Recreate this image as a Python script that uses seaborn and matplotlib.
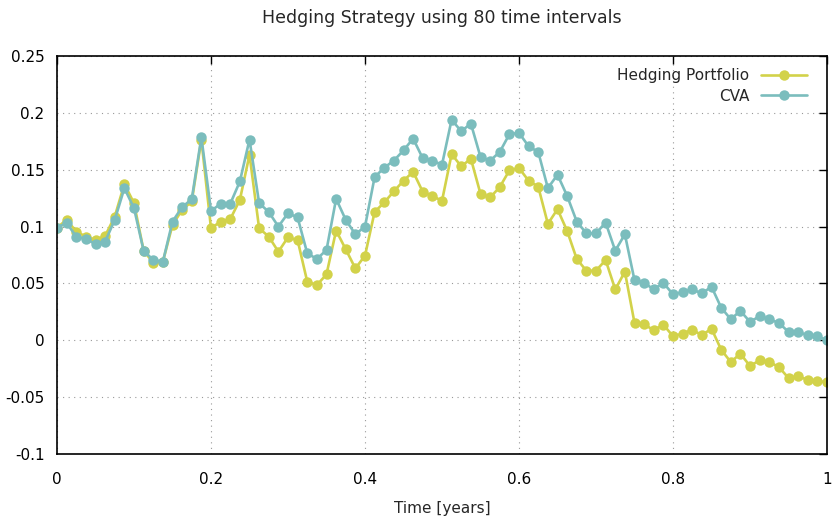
import numpy as np
import pandas as pd
import matplotlib
matplotlib.use("Agg")
import matplotlib.pyplot as plt
import seaborn as sns

n_intervals = 80
time = [i / n_intervals for i in range(n_intervals + 1)]

hedging = [0.099, 0.106, 0.0956, 0.0912, 0.0882, 0.0918, 0.1088, 0.1374, 0.1206, 0.0788,
           0.0682, 0.0691, 0.1015, 0.1147, 0.1221, 0.1765, 0.0985, 0.1044, 0.1065, 0.1235,
           0.1632, 0.0985, 0.0912, 0.0779, 0.0906, 0.088, 0.0515, 0.0485, 0.058, 0.0965,
           0.08, 0.0632, 0.0744, 0.1129, 0.1212, 0.131, 0.1403, 0.1482, 0.1306, 0.127,
           0.1226, 0.1638, 0.1529, 0.1597, 0.1288, 0.1256, 0.1347, 0.1494, 0.1515, 0.1403,
           0.1350, 0.1024, 0.1153, 0.0962, 0.0715, 0.0612, 0.0612, 0.0706, 0.0447, 0.0603,
           0.0153, 0.0141, 0.0088, 0.0138, 0.0035, 0.0059, 0.0094, 0.0044, 0.0103, -0.0082,
           -0.0191, -0.0118, -0.0226, -0.0176, -0.0191, -0.0235, -0.0332, -0.0318, -0.0347, -0.0359,
           -0.0368]

cva = [0.099, 0.1032, 0.0912, 0.0891, 0.0847, 0.0868, 0.1059, 0.1338, 0.1162, 0.0788,
       0.0706, 0.0691, 0.1044, 0.1171, 0.1241, 0.1785, 0.1138, 0.12, 0.12, 0.1397,
       0.1765, 0.1206, 0.1129, 0.1, 0.1118, 0.108, 0.0765, 0.0715, 0.0794, 0.1244,
       0.1059, 0.0932, 0.1, 0.1435, 0.1518, 0.158, 0.167, 0.1774, 0.16, 0.158,
       0.1544, 0.194, 0.1838, 0.1906, 0.1612, 0.158, 0.1656, 0.1812, 0.1824, 0.1706,
       0.1656, 0.1338, 0.1456, 0.127, 0.1044, 0.0941, 0.0941, 0.1035, 0.0788, 0.0932,
       0.0529, 0.0506, 0.0447, 0.0506, 0.0403, 0.0424, 0.0447, 0.0412, 0.0471, 0.0288,
       0.0185, 0.0259, 0.0162, 0.0212, 0.0185, 0.0153, 0.0074, 0.0074, 0.0044, 0.0035,
       0.0]

series_names = ["Hedging Portfolio", "CVA"]
colors = ["#d2d24a", "#7bbdbd"]

df = pd.DataFrame({"time": time, "Hedging Portfolio": hedging, "CVA": cva})
long_df = df.melt(id_vars="time", var_name="series", value_name="value")

sns.set_style("white")
plt.rcParams['font.family'] = ['DejaVu Sans']

fig = plt.figure(figsize=(8.33, 5.2), dpi=100)
ax = fig.add_axes([57 / 833, 1 - 454 / 520, 770 / 833, 398 / 520])

sns.lineplot(data=long_df, x="time", y="value", hue="series", hue_order=series_names,
             palette=colors, marker="o", markersize=7.5, markeredgewidth=0,
             linewidth=1.9, ax=ax)

ax.set_xlim(0, 1)
ax.set_ylim(-0.1, 0.25)
ax.set_xticks([0, 0.2, 0.4, 0.6, 0.8, 1])
ax.set_xticklabels(["0", "0.2", "0.4", "0.6", "0.8", "1"])
yticks = [-0.1, -0.05, 0, 0.05, 0.1, 0.15, 0.2, 0.25]
ax.set_yticks(yticks)
ax.set_yticklabels(["-0.1", "-0.05", "0", "0.05", "0.1", "0.15", "0.2", "0.25"])
ax.tick_params(direction="in", length=6, width=1, top=True, right=True,
               labelsize=11, colors="black")
ax.tick_params(axis="x", pad=13)
ax.tick_params(axis="y", pad=9)
ax.grid(True, linestyle=(0, (1, 4)), color="#999999", linewidth=0.8)
for sp in ax.spines.values():
    sp.set_color("black")
    sp.set_linewidth(1.2)

ax.set_xlabel("Time [years]", fontsize=11, labelpad=10)
ax.set_ylabel("")
ax.set_title("Hedging Strategy using 80 time intervals", fontsize=12.5, pad=24)

leg = ax.legend(loc="upper right", frameon=False, markerfirst=False, fontsize=11,
                handlelength=3.0, labelspacing=0.35, borderaxespad=0.4,
                bbox_to_anchor=(0.99, 1.0))
for t in leg.get_texts():
    t.set_ha("right")
leg._legend_box.align = "right"

fig.savefig("out.png", dpi=100)
